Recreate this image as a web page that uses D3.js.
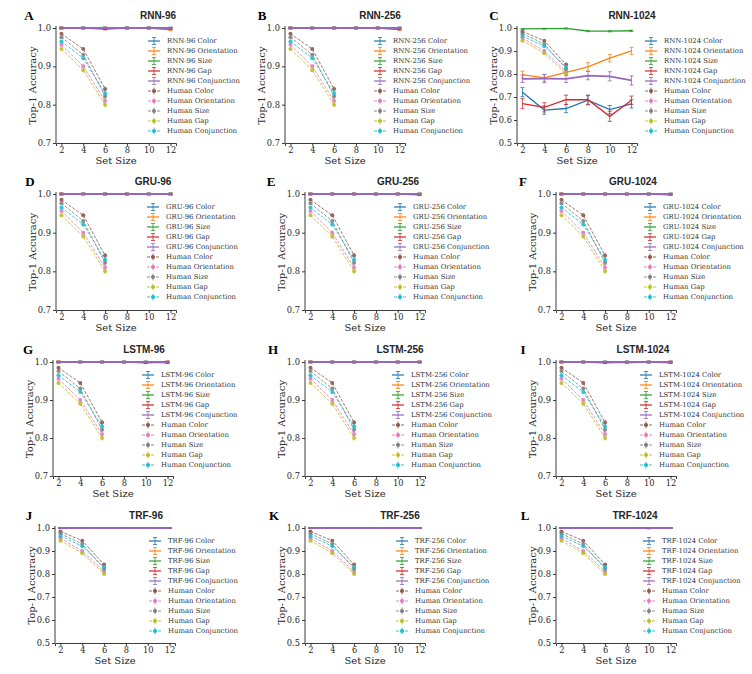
<!DOCTYPE html>
<html>
<head>
<meta charset="utf-8">
<script src="https://cdn.jsdelivr.net/npm/d3@7"></script>
<style>
  body { margin: 0; background: #fff; }
  .tick text { font-family: "DejaVu Serif", serif; font-size: 8.3px; fill: #262626; }
  .domain, .tick line { stroke: #262626; stroke-width: 0.9px; }
</style>
</head>
<body>
<div class="container"></div>
<script>
// set sizes and names
var setSizes = [2, 4, 6, 8, 10, 12];
var humanSizes = [2, 4, 6];
var seriesNames = ["Color", "Orientation", "Size", "Gap", "Conjunction"];
var modelNames = ["RNN-96", "RNN-256", "RNN-1024", "GRU-96", "GRU-256", "GRU-1024",
                  "LSTM-96", "LSTM-256", "LSTM-1024", "TRF-96", "TRF-256", "TRF-1024"];
var letters = ["A", "B", "C", "D", "E", "F", "G", "H", "I", "J", "K", "L"];
var modelColors = ["#1f77b4", "#ff7f0e", "#2ca02c", "#d62728", "#9467bd"];
var humanColors = ["#8c564b", "#e377c2", "#7f7f7f", "#bcbd22", "#17becf"];

// human accuracy (same in every panel), order: Color, Orientation, Size, Gap, Conjunction
var humanColor = [0.985, 0.945, 0.841];
var humanOrientation = [0.956, 0.900, 0.810];
var humanSize = [0.976, 0.930, 0.822];
var humanGap = [0.945, 0.890, 0.800];
var humanConjunction = [0.965, 0.921, 0.830];
var humanErr = [0.004, 0.005, 0.007];

// model accuracy, rows: Color, Orientation, Size, Gap, Conjunction
var rnn96 = [
  [1, 1, 1, 1, 1, 1],
  [1, 1, 1, 1, 1, 0.995],
  [1, 1, 1, 1, 1, 0.999],
  [1, 1, 0.997, 1, 1, 0.998],
  [1, 1, 1, 1, 1, 1]];
var rnn256 = [
  [1, 1, 1, 1, 1, 1],
  [1, 1, 1, 1, 1, 0.996],
  [1, 1, 1, 1, 1, 1],
  [1, 1, 1, 1, 1, 0.997],
  [1, 1, 1, 1, 1, 1]];
var rnn1024 = [
  [0.721, 0.643, 0.650, 0.686, 0.645, 0.670],
  [0.797, 0.783, 0.807, 0.831, 0.869, 0.901],
  [0.996, 0.997, 0.998, 0.987, 0.986, 0.988],
  [0.671, 0.655, 0.688, 0.688, 0.616, 0.686],
  [0.779, 0.780, 0.779, 0.793, 0.790, 0.772]];
var rnn1024Err = [
  [0.020, 0.018, 0.018, 0.020, 0.018, 0.018],
  [0.015, 0.015, 0.014, 0.018, 0.016, 0.015],
  [0.002, 0.002, 0.002, 0.003, 0.003, 0.003],
  [0.022, 0.020, 0.020, 0.020, 0.022, 0.018],
  [0.016, 0.018, 0.016, 0.018, 0.020, 0.020]];
var gru96 = [
  [1, 1, 1, 1, 1, 1],
  [1, 1, 1, 1, 1, 1],
  [1, 1, 1, 1, 1, 1],
  [1, 1, 1, 1, 1, 1],
  [1, 1, 1, 1, 1, 1]];
var gru256 = [
  [1, 1, 1, 1, 1, 1],
  [1, 1, 1, 1, 1, 1],
  [1, 1, 1, 1, 1, 1],
  [1, 1, 1, 1, 1, 0.998],
  [1, 1, 1, 1, 1, 1]];
var gru1024 = [
  [1, 1, 1, 1, 1, 0.998],
  [1, 1, 1, 1, 1, 0.999],
  [1, 1, 1, 1, 1, 1],
  [1, 1, 1, 1, 1, 1],
  [1, 1, 1, 1, 1, 1]];
var lstm96 = [
  [1, 1, 1, 1, 1, 1],
  [1, 1, 1, 1, 1, 1],
  [1, 1, 1, 1, 1, 0.998],
  [1, 1, 1, 1, 0.998, 1],
  [1, 1, 1, 1, 1, 1]];
var lstm256 = [
  [1, 1, 1, 1, 1, 1],
  [1, 1, 1, 1, 1, 1],
  [1, 1, 1, 1, 1, 1],
  [1, 1, 1, 1, 1, 1],
  [1, 1, 1, 1, 1, 1]];
var lstm1024 = [
  [1, 1, 1, 1, 1, 1],
  [1, 1, 1, 0.998, 1, 1],
  [1, 1, 1, 1, 1, 0.998],
  [1, 1, 0.998, 1, 1, 1],
  [1, 1, 1, 1, 1, 1]];
var trf96 = [
  [1, 1, 1, 1, 1, 1],
  [1, 1, 1, 1, 1, 1],
  [1, 1, 1, 1, 1, 1],
  [1, 1, 1, 1, 1, 1],
  [1, 1, 1, 1, 1, 1]];
var trf256 = [
  [1, 1, 1, 1, 1, 1],
  [1, 1, 1, 1, 1, 1],
  [1, 1, 1, 1, 1, 1],
  [1, 1, 1, 1, 1, 1],
  [1, 1, 1, 1, 1, 1]];
var trf1024 = [
  [1, 1, 1, 1, 1, 1],
  [1, 1, 1, 1, 1, 1],
  [1, 1, 1, 1, 0.998, 1],
  [1, 1, 1, 1, 1, 1],
  [1, 1, 1, 1, 1, 1]];
var yTicksShort = [0.7, 0.8, 0.9, 1.0];
var yTicksLong = [0.5, 0.6, 0.7, 0.8, 0.9, 1.0];
var xTicks = [2, 4, 6, 8, 10, 12];

var modelData = [rnn96, rnn256, rnn1024, gru96, gru256, gru1024,
                 lstm96, lstm256, lstm1024, trf96, trf256, trf1024];
var humanData = [humanColor, humanOrientation, humanSize, humanGap, humanConjunction];

// layout of the 12 subplots (pixels)
var axLeft = [56, 285, 517, 56, 305, 556, 53, 305, 556, 55, 305, 556];
var rowTop = [28, 194, 362, 528];
var rowBottom = [143, 310, 476, 643];
var legendX = [148, 374, 645, 147, 394, 644, 142, 392, 640, 149, 396, 643];
var titleX = [158, 380, 632, 153, 398, 633, 144, 400, 643, 146, 400, 635];
var letterX = [29, 262, 494, 30, 271, 523, 28, 273, 523, 29, 274, 525];
var plotWidth = 120;

var svg = d3.select(".container").append("svg")
  .attr("width", 752)
  .attr("height", 674)
  .style("background", "#fff");

modelNames.forEach(function(name, p) {
  var row = Math.floor(p / 3);
  var longAxis = (p === 2 || row === 3);
  var yMin = longAxis ? 0.5 : 0.7;
  var top = rowTop[row], bottom = rowBottom[row];
  var left = axLeft[p];

  var x = d3.scaleLinear().domain([1.5, 12.5]).range([left, left + plotWidth]);
  var y = d3.scaleLinear().domain([yMin, 1.0]).range([bottom, top]);
  var g = svg.append("g");

  // axes
  g.append("g")
    .attr("transform", "translate(0," + bottom + ")")
    .call(d3.axisBottom(x).tickValues(xTicks).tickSize(3).tickPadding(1.5).tickFormat(d3.format("d")));
  var yAxis = g.append("g")
    .attr("transform", "translate(" + left + ",0)")
    .call(d3.axisLeft(y).tickValues(longAxis ? yTicksLong : yTicksShort).tickSize(3).tickPadding(2).tickFormat(d3.format(".1f")));
  // extend spine a bit above 1.0
  yAxis.select(".domain").attr("d", "M-0," + bottom + "V" + (top - 2));

  // titles, letters, labels
  g.append("text").attr("x", titleX[p]).attr("y", top - 9)
    .attr("text-anchor", "middle")
    .style("font-family", "Liberation Sans, Arial, sans-serif").style("font-weight", "bold")
    .style("font-size", "10px").style("fill", "#262626")
    .text(name);
  g.append("text").attr("x", letterX[p]).attr("y", top - 8)
    .attr("text-anchor", "middle")
    .style("font-family", "Liberation Serif, serif").style("font-weight", "bold")
    .style("font-size", "13px").style("fill", "#000")
    .text(letters[p]);
  g.append("text")
    .attr("transform", "translate(" + (left - 24) + "," + ((top + bottom) / 2) + ") rotate(-90)")
    .attr("text-anchor", "middle").attr("dy", "0.35em")
    .style("font-family", "DejaVu Serif, serif").style("font-size", "10px").style("fill", "#262626")
    .text("Top-1 Accuracy");
  g.append("text")
    .attr("x", left + plotWidth / 2).attr("y", bottom + 21)
    .attr("text-anchor", "middle")
    .style("font-family", "DejaVu Serif, serif").style("font-size", "10px").style("fill", "#262626")
    .text("Set Size");

  var line = d3.line().x(function(d) { return x(d.s); }).y(function(d) { return y(d.v); });

  // model curves (conjunction last, a bit wider, so it sits on top like the original)
  modelData[p].forEach(function(vals, k) {
    var errs = (p === 2) ? rnn1024Err[k] : vals.map(function() { return 0.002; });
    var pts = vals.map(function(v, i) { return { s: setSizes[i], v: v, e: errs[i] }; });
    var sg = g.append("g");
    sg.append("path").datum(pts).attr("d", line)
      .attr("fill", "none").attr("stroke", modelColors[k]).attr("stroke-width", k === 4 ? 1.8 : 1.3);
    sg.selectAll("path.eb").data(pts).enter().append("path")
      .attr("class", "eb")
      .attr("d", function(d) {
        var cx = x(d.s), y0 = y(d.v - d.e), y1 = y(d.v + d.e);
        return "M" + cx + "," + y0 + "V" + y1 + "M" + (cx - 2) + "," + y0 + "H" + (cx + 2) + "M" + (cx - 2) + "," + y1 + "H" + (cx + 2);
      })
      .attr("fill", "none").attr("stroke", modelColors[k]).attr("stroke-width", 0.8);
  });

  // human curves
  humanData.forEach(function(vals, k) {
    var pts = vals.map(function(v, i) { return { s: humanSizes[i], v: v, e: humanErr[i] }; });
    var hg = g.append("g").style("opacity", 0.9);
    hg.append("path").datum(pts).attr("d", line)
      .attr("fill", "none").attr("stroke", humanColors[k]).attr("stroke-width", 0.9)
      .attr("stroke-dasharray", "3,1.5");
    hg.selectAll("path.eb").data(pts).enter().append("path")
      .attr("class", "eb")
      .attr("d", function(d) {
        var cx = x(d.s);
        return "M" + cx + "," + y(d.v - d.e) + "V" + y(d.v + d.e);
      })
      .attr("stroke", humanColors[k]).attr("stroke-width", 0.8);
    hg.selectAll("circle").data(pts).enter().append("circle")
      .attr("cx", function(d) { return x(d.s); })
      .attr("cy", function(d) { return y(d.v); })
      .attr("r", 2)
      .attr("fill", humanColors[k]);
  });

  // legend
  var lg = g.append("g").attr("transform", "translate(" + legendX[p] + "," + (top + 13) + ")");
  var entries = [];
  seriesNames.forEach(function(s, k) { entries.push({ label: name + " " + s, color: modelColors[k], human: false }); });
  seriesNames.forEach(function(s, k) { entries.push({ label: "Human " + s, color: humanColors[k], human: true }); });
  entries.forEach(function(e, i) {
    var ey = i * 10;
    var it = lg.append("g").attr("transform", "translate(0," + ey + ")");
    it.append("line").attr("x1", 0).attr("x2", 12).attr("y1", 0).attr("y2", 0)
      .attr("stroke", e.color).attr("stroke-width", e.human ? 0.9 : 1.2)
      .attr("stroke-dasharray", e.human ? "3,1.5" : null);
    it.append("path")
      .attr("d", e.human ? "M6,-3.5V3.5" : "M6,-3.5V3.5M4,-3.5H8M4,3.5H8")
      .attr("fill", "none").attr("stroke", e.color).attr("stroke-width", 0.8);
    if (e.human) {
      it.append("circle").attr("cx", 6).attr("cy", 0).attr("r", 2).attr("fill", e.color);
    }
    it.append("text").attr("x", 19).attr("y", 0).attr("dy", "0.35em")
      .style("font-family", "DejaVu Serif, serif").style("font-size", "6.9px").style("fill", "#333")
      .text(e.label);
  });
});
</script>
</body>
</html>
